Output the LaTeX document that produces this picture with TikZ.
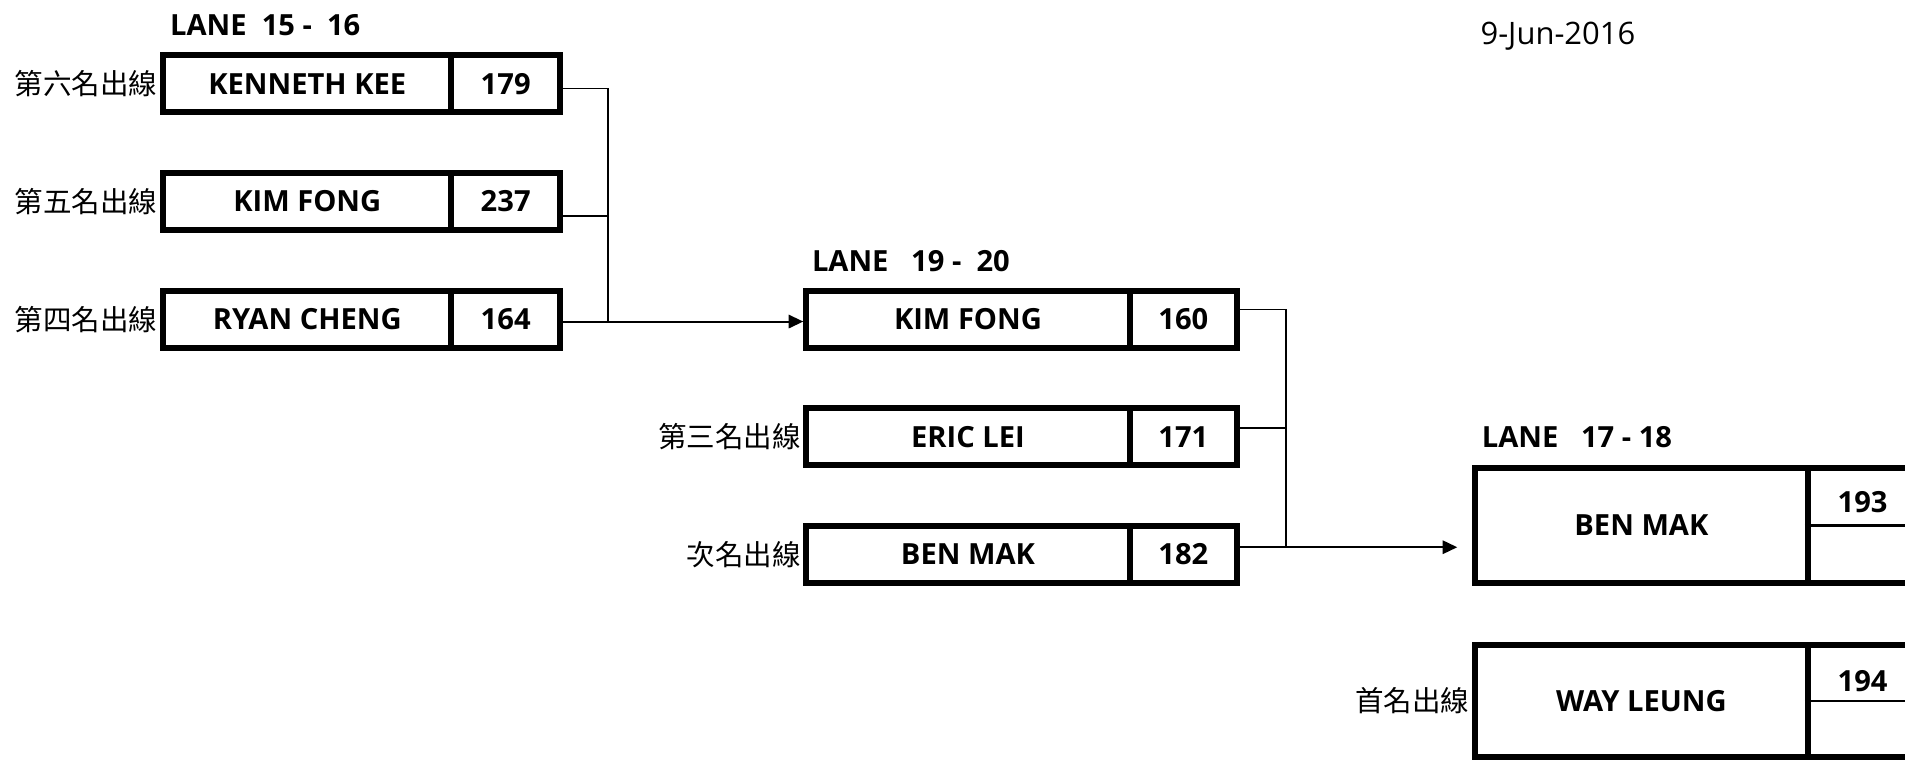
\documentclass[tikz,border=0pt]{standalone}
\usepackage{fontspec}
\setmainfont{Open Sans}
\newfontfamily\cjk{Noto Sans CJK TC}
\usetikzlibrary{arrows.meta,calc}
\begin{document}
\begin{tikzpicture}[x=1pt,y=-1pt,
  cell/.style={draw, line width=5pt, inner sep=0pt, font=\bfseries\fontsize{24}{28}\selectfont},
  lbl/.style={anchor=east, inner sep=2pt, font=\cjk\fontsize{23.5}{27}\selectfont},
  ttl/.style={anchor=base west, inner sep=0pt, font=\bfseries\fontsize{24}{28}\selectfont},
  num/.style={inner sep=0pt, font=\bfseries\fontsize{24}{28}\selectfont},
  conn/.style={line width=1.4pt},
  arr/.style={line width=1.6pt, -{Triangle[length=12pt,width=11pt]}}]
\clip (0,0) rectangle (1570,626);
\fill[white] (0,0) rectangle (1570,626);

% titles
\node[ttl] (t1) at (140,29) {LANE\ \ 15 -\ \ 16};
\node[ttl] (t2) at (669,224) {LANE\ \ \ 19 -\ \ 20};
\node[ttl] (t3) at (1221,369) {LANE\ \ \ 17 - 18};
\node[anchor=base west, inner sep=0pt, font=\fontsize{25.5}{29}\selectfont] (date) at (1220,37) {9-Jun-2016};

% left column
\node[cell, minimum width=237.5pt, minimum height=47pt] (a1) at (253.25,69) {KENNETH KEE};
\node[cell, minimum width=89.5pt, minimum height=47pt] (b1) at (416.75,69) {179};
\node[cell, minimum width=237.5pt, minimum height=47pt] (a2) at (253.25,166) {KIM FONG};
\node[cell, minimum width=89.5pt, minimum height=47pt] (b2) at (416.75,166) {237};
\node[cell, minimum width=237.5pt, minimum height=47pt] (a3) at (253.25,263) {RYAN CHENG};
\node[cell, minimum width=89.5pt, minimum height=47pt] (b3) at (416.75,263) {164};
\node[lbl] (l1) at (a1.west) {第六名出線};
\node[lbl] (l2) at (a2.west) {第五名出線};
\node[lbl] (l3) at (a3.west) {第四名出線};

% middle column
\node[cell, minimum width=266.5pt, minimum height=47pt] (m1) at (797.75,263) {KIM FONG};
\node[cell, minimum width=88.5pt, minimum height=47pt] (n1) at (975.25,263) {160};
\node[cell, minimum width=266.5pt, minimum height=47pt] (m2) at (797.75,360) {ERIC LEI};
\node[cell, minimum width=88.5pt, minimum height=47pt] (n2) at (975.25,360) {171};
\node[cell, minimum width=266.5pt, minimum height=47pt] (m3) at (797.75,457) {BEN MAK};
\node[cell, minimum width=88.5pt, minimum height=47pt] (n3) at (975.25,457) {182};
\node[lbl] (l4) at (m2.west) {第三名出線};
\node[lbl] (l5) at (m3.west) {次名出線};

% right column
\node[cell, minimum width=274.5pt, minimum height=95pt] (r1) at (1352.75,433) {BEN MAK};
\node[cell, minimum width=90pt, minimum height=95pt] (s1) at (1535,433) {};
\node[num] (s1t) at ([yshift=19pt]s1.center) {193};
\node[cell, minimum width=274.5pt, minimum height=92pt] (r2) at (1352.75,577.5) {WAY LEUNG};
\node[cell, minimum width=90pt, minimum height=92pt] (s2) at (1535,577.5) {};
\node[num] (s2t) at ([yshift=16pt]s2.center) {194};
\node[lbl] (l6) at (r2.west) {首名出線};
\draw[line width=2pt] (s1.west) -- (s1.east);
\draw[line width=2pt] (s2.west) -- (s2.east);

% connectors, first stage
\coordinate (ja) at (501,73);
\coordinate (jb) at (501,265);
\draw[conn] (b1.east |- ja) -- (ja) -- (jb);
\draw[conn] (b2.east |- 0,178) -- (jb |- 0,178);
\draw[arr] (b3.east |- jb) -- (m1.west |- jb);

% connectors, second stage
\coordinate (jc) at (1060,255);
\coordinate (jd) at (1060,451);
\draw[conn] (n1.east |- jc) -- (jc) -- (jd);
\draw[conn] (n2.east |- 0,353) -- (jd |- 0,353);
\draw[arr] (n3.east |- jd) -- ([xshift=-12pt]r1.west |- jd);
\end{tikzpicture}
\end{document}
